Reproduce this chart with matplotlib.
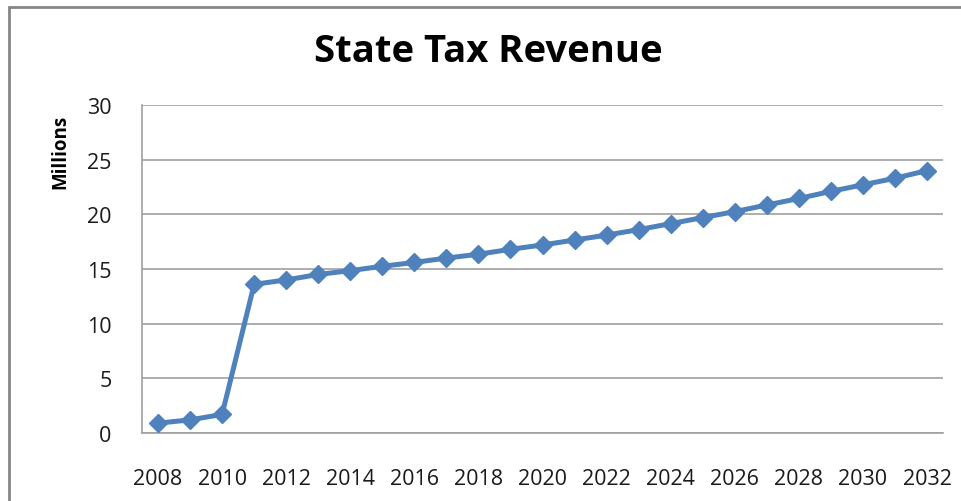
import numpy as np
import matplotlib
matplotlib.use("Agg")
import matplotlib.pyplot as plt
from matplotlib.patches import Rectangle

plt.rcParams['font.family'] = ['Open Sans', 'DejaVu Sans']

# revenue by year (millions)
years = list(range(2008, 2033))
revenue = [0.9, 1.2, 1.7, 13.6, 14.0, 14.5, 14.85, 15.25, 15.6, 16.0,
           16.35, 16.8, 17.2, 17.65, 18.1, 18.6, 19.15, 19.7, 20.25, 20.85,
           21.45, 22.1, 22.7, 23.3, 24.0]
yticks = [0, 5, 10, 15, 20, 25, 30]
xticks = years[::2]

fig = plt.figure(figsize=(9.61, 5.02), dpi=100)
ax = fig.add_axes([142/961, 1-434/502, 801/961, 328/502])

# chart frame
fig.patches.append(Rectangle((9/961, -0.1), 1.2, 1-8/502+0.1, transform=fig.transFigure,
                             fill=False, edgecolor='#868686', linewidth=2))

ax.plot(years, revenue, color='#4F81BD', linewidth=3.6, marker='D', markersize=9,
        markeredgecolor='#4F81BD', markerfacecolor='#4F81BD', clip_on=False, zorder=3)

ax.set_xlim(2007.5, 2032.5)
ax.set_ylim(0, 30)
ax.set_yticks(yticks)
ax.set_xticks(xticks)
ax.grid(axis='y', color='#A0A0A0', linewidth=1.2)
ax.set_axisbelow(True)
for s in ['top', 'right']:
    ax.spines[s].set_visible(False)
for s in ['left', 'bottom']:
    ax.spines[s].set_color('#A0A0A0')
    ax.spines[s].set_linewidth(1.2)
ax.tick_params(axis='y', length=0, pad=22, labelsize=15.5, labelcolor='#1a1a1a')
ax.tick_params(axis='x', length=0, pad=25, labelsize=15.5, labelcolor='#1a1a1a')

fig.text(488/961, 1-52/502, 'State Tax Revenue', ha='center', va='center',
         fontsize=27.5, fontweight='bold')
fig.text(60/961, 1-152/502, 'Millions', ha='center', va='center', rotation=90,
         fontsize=13.5, fontweight='bold')

fig.savefig('out.png', dpi=100)
